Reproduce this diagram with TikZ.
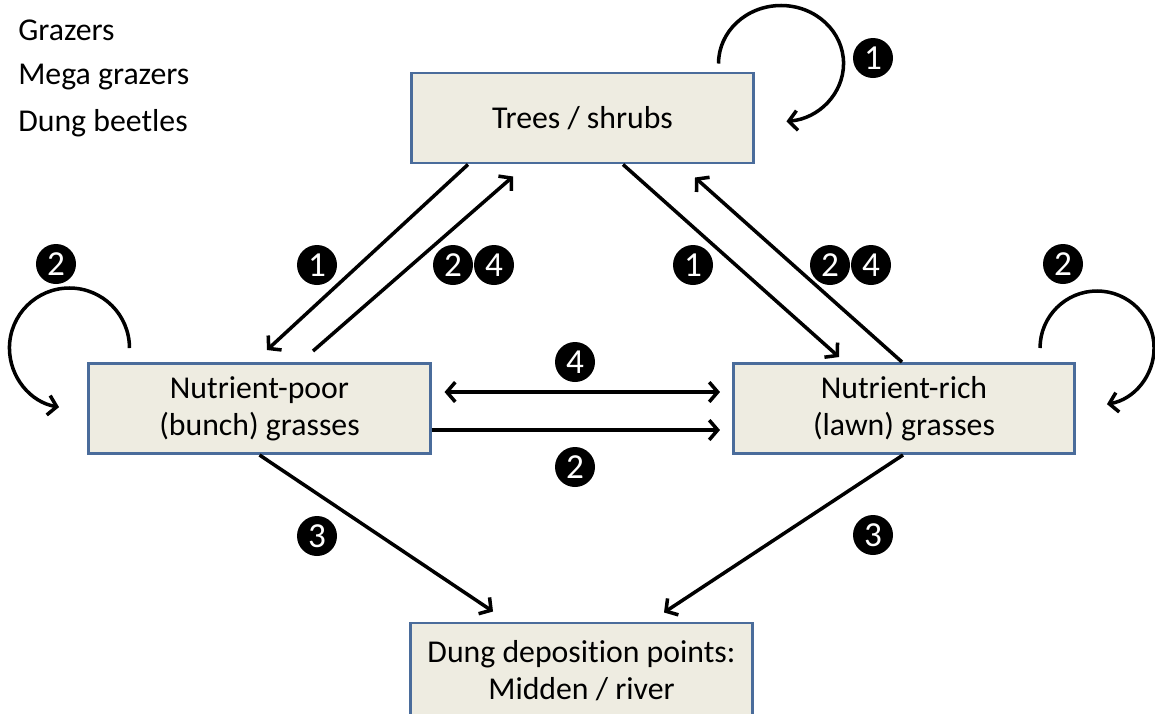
\documentclass[tikz,border=0pt]{standalone}
\usepackage{fontspec}
\setmainfont{Carlito}[Ligatures=NoCommon]
\usetikzlibrary{arrows.meta,calc}
\definecolor{boxfill}{HTML}{EEECE1}
\definecolor{boxline}{HTML}{4A6C9B}
\tikzset{
  box/.style={draw=boxline, fill=boxfill, line width=2.1pt, minimum width=8.525cm, minimum height=2.25cm, align=center, font=\fontsize{22.6}{26.3}\selectfont},
  arr/.style={line width=2.5pt, -{Straight Barb[length=6pt,width=14pt]}},
  dblarr/.style={line width=2.5pt, {Straight Barb[length=6pt,width=14pt]}-{Straight Barb[length=6pt,width=14pt]}},
  num/.style={circle, fill=black, text=white, inner sep=0pt, minimum size=1cm, font=\fontsize{25}{25}\selectfont},
  side/.style={anchor=west, inner sep=0pt, font=\fontsize{22.6}{26}\selectfont}
}
\begin{document}
\begin{tikzpicture}[x=0.025cm, y=-0.025cm]
    \useasboundingbox (0,0) rectangle (1155,713);
    \node[side] (grazers) at (18,30) {Grazers};
    \node[side] (megagrazers) at (18,77) {Mega grazers};
    \node[side] (beetles) at (18,123) {Dung beetles};

    \node[box] (trees) at (582.5,118) {Trees / shrubs};
    \node[box] (poor) at (259.5,408.5) {Nutrient-poor\\(bunch) grasses};
    \node[box] (rich) at (904,408.5) {Nutrient-rich\\(lawn) grasses};
    \node[box, minimum height=2.4cm] (dung) at (581.5,671) {Dung deposition points:\\Midden / river};

    \draw[arr] ($(trees.north east)+(-36,-8)$) arc [start angle=180, end angle=-85, x radius=1.5625cm, y radius=1.45cm];
    \draw[arr] ($(poor.north west)+(42,-14)$) arc [start angle=0, end angle=260, radius=1.5cm];
    \draw[arr] ($(rich.north east)+(-36,-14)$) arc [start angle=180, end angle=-80, radius=1.425cm];

    \draw[arr] ($(trees.south)+(-114.5,0)$) -- ($(poor.north)+(7.5,-12)$);
    \draw[arr] ($(poor.north)+(53.5,-11)$) -- ($(trees.south)+(-69.5,12)$);
    \draw[arr] ($(trees.south)+(40.5,0)$) -- ($(rich.north)+(-65,-5)$);
    \draw[arr] ($(rich.north)+(-2,0)$) -- ($(trees.south)+(112.5,13)$);
    \draw[dblarr] ($(poor.east)+(13,-16.5)$) -- ($(rich.west)+(-12,-16.5)$);
    \draw[arr] ($(poor.east)+(0,21.5)$) -- ($(rich.west)+(-12,21.5)$);
    \draw[arr] (poor.south) -- ($(dung.north)+(-88.5,-10)$);
    \draw[arr] ($(rich.south)+(-1,0)$) -- ($(dung.north)+(82.5,-9)$);

    \node[num] (n1trees) at (873,58) {1};
    \node[num] (n2poor) at (56,264) {2};
    \node[num] (n1left) at (317,265) {1};
    \node[num] (n2left) at (453,265) {2};
    \node[num] (n4left) at (494,265) {4};
    \node[num] (n1right) at (693,265) {1};
    \node[num] (n2right) at (830,265) {2};
    \node[num] (n4right) at (871,265) {4};
    \node[num] (n2rich) at (1063,264) {2};
    \node[num] (n4mid) at (575,362) {4};
    \node[num] (n2mid) at (575,467) {2};
    \node[num] (n3left) at (317,536) {3};
    \node[num] (n3right) at (873,535) {3};
\end{tikzpicture}
\end{document}
